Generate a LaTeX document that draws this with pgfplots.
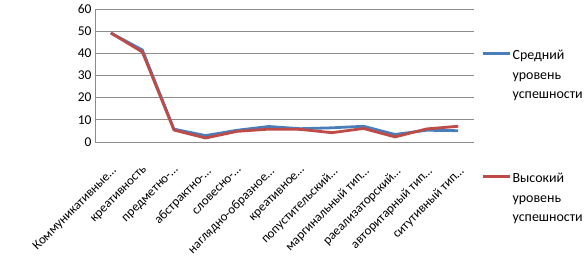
\documentclass[border=0pt]{standalone}
\usepackage{pgfplots}
\pgfplotsset{compat=1.18}
\usepackage{fontspec}
\setmainfont{Carlito}
\definecolor{xlblue}{RGB}{74,126,187}
\definecolor{xlred}{RGB}{190,75,72}
\definecolor{gridgray}{RGB}{140,140,140}
\begin{document}
\begin{tikzpicture}
\begin{axis}[
  at={(0,0)}, anchor=south west,
  scale only axis, width=379bp, height=133bp,
  xmin=0.5, xmax=12.5, ymin=0, ymax=60,
  axis x line=bottom, axis y line=left,
  axis line style={gridgray, -, line width=0.7pt},
  ytick={0,10,...,60},
  ymajorgrids, grid style={gridgray, line width=0.7pt},
  major tick length=4bp,
  ytick style={draw=none},
  xtick={1,...,12},
  xtick style={draw=none},
  extra x ticks={0.5,1.5,...,12.5},
  extra x tick labels={},
  extra x tick style={tick style={draw=gridgray, line width=0.7pt}, tickwidth=5bp, xtick align=outside, grid=none},
  xticklabels={Коммуникативные…,креативность,предметно-…,абстрактно-…,словесно-…,наглядно-образное…,креативное…,попустительский…,маргинальный тип…,раеализаторский…,авторитарный тип…,ситутивный тип…},
  x tick label style={xshift=0bp, yshift=-20bp, rotate=45, anchor=north east, font=\fontsize{13}{15}\selectfont, inner sep=1bp},
  y tick label style={font=\fontsize{13.5}{15}\selectfont, xshift=2bp},
  /pgf/number format/assume math mode=true,
  legend style={at={(axis description cs:1.02,0.73)}, anchor=north west, draw=none, fill=none,
    font=\fontsize{14}{19.5}\selectfont, row sep=106bp, inner sep=0pt,
    nodes={inner sep=1bp}},
  legend cell align=left,
  legend image code/.code={\draw[#1, line width=2.8pt] (0bp,0bp) -- (27bp,0bp);},
]
\addplot[xlblue, line width=2.8pt, line join=round] coordinates {
(1,49.2) (2,41.5) (3,5.8) (4,2.9) (5,5.3) (6,7.0) (7,6.0) (8,6.4) (9,7.1) (10,3.4) (11,5.3) (12,5.1)};
\addlegendentry{\begin{tabular}[t]{@{}l@{}}Средний\\уровень\\успешности\end{tabular}}
\addplot[xlred, line width=2.8pt, line join=round] coordinates {
(1,49.2) (2,40.6) (3,5.4) (4,1.8) (5,4.8) (6,5.8) (7,5.7) (8,4.2) (9,6.1) (10,2.3) (11,5.9) (12,7.1)};
\addlegendentry{\begin{tabular}[t]{@{}l@{}}Высокий\\уровень\\успешности\end{tabular}}
\end{axis}
\pgfresetboundingbox
\path (-95bp,-127bp) rectangle (491bp,142bp);
\end{tikzpicture}
\end{document}
